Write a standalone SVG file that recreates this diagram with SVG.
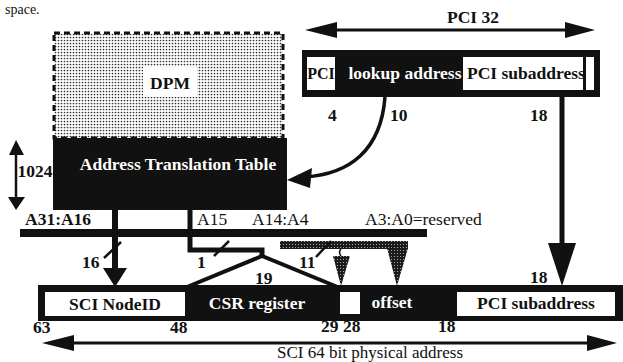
<svg xmlns="http://www.w3.org/2000/svg" width="623" height="362" viewBox="0 0 623 362">
<style>
  text { font-family: "Liberation Serif", "Times New Roman", serif; fill: #111; }
  .b { font-weight: bold; font-size: 17.5px; }
  .r { font-size: 17.5px; }
  .w { fill: #fff; }
  .m { text-anchor: middle; }
  .ink { fill: #111; }
  .wf { fill: #fff; }
  .ln { stroke: #111; fill: none; }
</style>
<defs>
  <pattern id="dotsLight" width="3" height="3" patternUnits="userSpaceOnUse">
    <rect width="3" height="3" fill="#fff"/>
    <circle cx="1.5" cy="1.5" r="0.85" fill="#333"/>
  </pattern>
  <pattern id="dotsDark" width="3" height="3" patternUnits="userSpaceOnUse">
    <rect width="3" height="3" fill="#1a1a1a"/>
    <circle cx="1.5" cy="1.5" r="0.6" fill="#bbb"/>
  </pattern>
</defs>

<rect width="623" height="362" fill="#fff"/>
<text x="5" y="14" style="font-size:14px">space.</text>

<g id="dpm">
  <rect x="54" y="33" width="229" height="105" fill="url(#dotsLight)" stroke="#111" stroke-width="3" stroke-dasharray="6 4"/>
  <rect x="143" y="67" width="54" height="30" class="wf"/>
  <text x="170" y="89" class="b m">DPM</text>
</g>

<g id="att">
  <rect x="53" y="138" width="234" height="72" class="ink"/>
  <text x="178" y="170" class="b m w">Address Translation Table</text>
</g>

<g id="pci-register">
  <rect x="302" y="50" width="298" height="47" class="ink"/>
  <rect x="307" y="57" width="28" height="33" class="wf"/>
  <text x="321" y="79" class="b m" style="font-size:16px">PCI</text>
  <text x="405" y="79" class="b m w">lookup address</text>
  <svg x="463" y="57" width="120" height="33" overflow="hidden">
    <rect width="120" height="33" class="wf"/>
    <text x="4" y="22" class="b">PCI subaddress</text>
  </svg>
  <rect x="586" y="57" width="8" height="33" class="wf"/>
</g>

<g id="address-bus">
  <rect x="20" y="229" width="407" height="8" class="ink"/>
  <text x="25" y="225" class="b">A31:A16</text>
  <text x="197" y="225" class="r">A15</text>
  <text x="252" y="225" class="r">A14:A4</text>
  <text x="365" y="225" class="r">A3:A0=reserved</text>
</g>

<g id="sci-register">
  <rect x="38" y="285" width="585" height="36" class="ink"/>
  <rect x="45" y="292" width="140" height="24" class="wf"/>
  <text x="115" y="310" class="b m">SCI NodeID</text>
  <text x="257" y="309" class="b m w">CSR register</text>
  <rect x="340" y="292" width="20" height="22" class="wf"/>
  <text x="392" y="308" class="b m w">offset</text>
  <rect x="457" y="292" width="158" height="24" class="wf"/>
  <text x="536" y="309" class="b m">PCI subaddress</text>
</g>

<g id="connectors">
  <!-- PCI 32 width arrow -->
  <line x1="330" y1="30" x2="570" y2="30" class="ln" stroke-width="3"/>
  <polygon points="305,30 337,22 337,38" class="ink"/>
  <polygon points="595,30 565,22 565,38" class="ink"/>
  <!-- 1024 arrow -->
  <line x1="16" y1="150" x2="16" y2="200" class="ln" stroke-width="2.5"/>
  <polygon points="16,140 9,155 24,155" class="ink"/>
  <polygon points="16,210 8,197 25,197" class="ink"/>
  <!-- lookup address -> ATT -->
  <path d="M385,97 C381,150 350,174 305,177" class="ln" stroke-width="3.5"/>
  <polygon points="287,180 312,168 310,188" class="ink"/>
  <!-- PCI subaddress -> SCI PCI subaddress -->
  <line x1="562" y1="97" x2="562" y2="246" class="ln" stroke-width="5"/>
  <polygon points="548,243 576,243 562,286" class="ink"/>
  <!-- A31:A16 -> SCI NodeID -->
  <line x1="115" y1="210" x2="115" y2="270" class="ln" stroke-width="6"/>
  <polygon points="103,268 127,268 115,287" class="ink"/>
  <line x1="104" y1="258" x2="121" y2="242" class="ln" stroke-width="2.5"/>
  <!-- A15 -> CSR register -->
  <path d="M190,210 V250 H262 V257" class="ln" stroke-width="5"/>
  <polyline points="187,287 262,256 340,288" class="ln" stroke-width="4" stroke-linejoin="miter"/>
  <line x1="214" y1="256" x2="229" y2="241" class="ln" stroke-width="2.5"/>
  <!-- A14:A4 -> offset (dotted) -->
  <rect x="280" y="241" width="128" height="8" fill="url(#dotsDark)"/>
  <path d="M341,249 q-3,3 0,7" class="ln" stroke-width="1.5"/>
  <polygon points="333,256 350,256 341,286" fill="url(#dotsDark)"/>
  <polygon points="387,248 408,248 397,286" fill="url(#dotsDark)"/>
  <line x1="316" y1="257" x2="331" y2="241" class="ln" stroke-width="2.5"/>
  <!-- SCI 64 bit arrow -->
  <line x1="65" y1="343" x2="595" y2="343" class="ln" stroke-width="3"/>
  <polygon points="42,343 74,335 74,351" class="ink"/>
  <polygon points="617,343 587,335 587,351" class="ink"/>
</g>

<g id="labels">
  <text x="473" y="23" class="b m">PCI 32</text>
  <text x="35" y="177" class="b m">1024</text>
  <text x="328" y="121" class="b">4</text>
  <text x="390" y="121" class="b">10</text>
  <text x="530" y="121" class="b">18</text>
  <text x="82" y="268" class="b">16</text>
  <text x="197" y="268" class="b">1</text>
  <text x="299" y="268" class="b">11</text>
  <text x="255" y="284" class="b">19</text>
  <text x="530" y="283" class="b">18</text>
  <text x="33" y="333" class="b">63</text>
  <text x="170" y="333" class="b">48</text>
  <text x="321" y="332" class="b">29 28</text>
  <text x="438" y="332" class="b">18</text>
  <text x="277" y="358" style="font-size:17px">SCI 64 bit physical address</text>
</g>
</svg>
